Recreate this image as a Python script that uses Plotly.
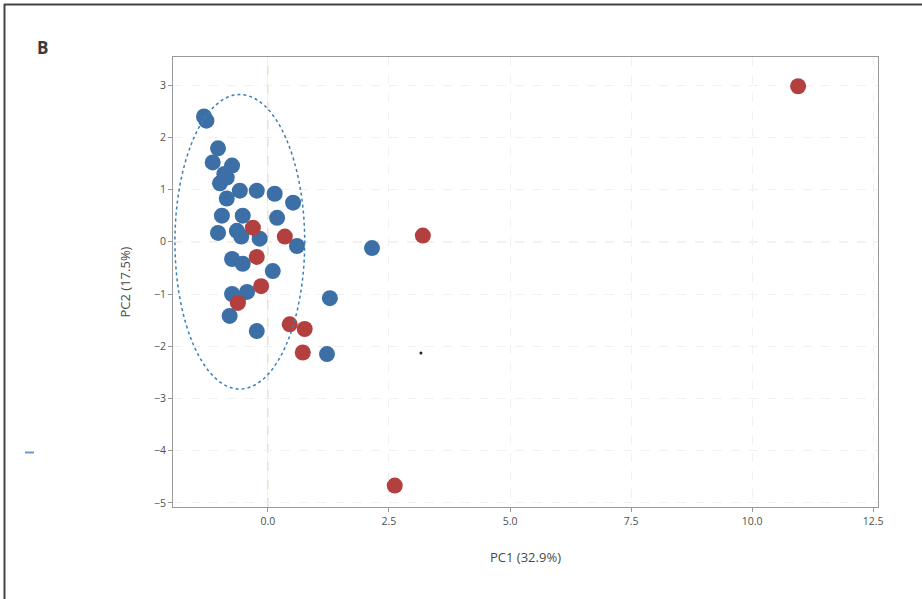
import plotly.graph_objects as go

# Group 1 (blue)
blue_x = [-1.32, -1.27, -1.03, -1.14, -0.74, -0.85, -0.99, -0.58, -0.23, 0.14, 0.52,
          -0.85, -0.95, -0.52, 0.19, -1.03, -0.64, -0.17, 0.60, -0.74, -0.52, 0.10,
          -0.74, -0.43, -0.62, -0.79, -0.23, 1.28, 1.22, 2.15, -0.90, -0.55]
blue_y = [2.40, 2.32, 1.79, 1.52, 1.46, 1.23, 1.12, 0.98, 0.98, 0.92, 0.75,
          0.83, 0.50, 0.50, 0.46, 0.17, 0.21, 0.06, -0.08, -0.33, -0.42, -0.56,
          -1.00, -0.96, -1.13, -1.42, -1.71, -1.08, -2.15, -0.12, 1.30, 0.10]

# Group 2 (red)
red_x = [-0.31, 0.35, -0.23, -0.14, -0.62, 0.45, 0.76, 0.72, 3.20, 2.62, 10.95]
red_y = [0.27, 0.10, -0.29, -0.85, -1.17, -1.58, -1.67, -2.12, 0.12, -4.67, 2.98]

# stray dot visible in the figure
dot_x = [3.16]
dot_y = [-2.13]

# confidence ellipse (centre, half-widths) in data units
ell_cx, ell_cy = -0.58, 0.0
ell_rx, ell_ry = 1.34, 2.82

x_ticks = [0.0, 2.5, 5.0, 7.5, 10.0, 12.5]
y_ticks = [3, 2, 1, 0, -1, -2, -3, -4, -5]

BLUE = "#3c6fa6"
RED = "#b3403f"

W, H = 922, 599
L, R, T, B = 173, 44, 57, 92
PW, PH = W - L - R, H - T - B


def px(xp):
    return (xp - L) / PW


def py(yp):
    return (H - B - yp) / PH


fig = go.Figure()
fig.add_trace(go.Scatter(x=blue_x, y=blue_y, mode="markers",
                         marker=dict(size=16, color=BLUE, line=dict(width=0)),
                         showlegend=False))
fig.add_trace(go.Scatter(x=red_x, y=red_y, mode="markers",
                         marker=dict(size=16, color=RED, line=dict(width=0)),
                         showlegend=False))
fig.add_trace(go.Scatter(x=dot_x, y=dot_y, mode="markers",
                         marker=dict(size=3, color="#222222"), showlegend=False))

fig.add_shape(type="circle", xref="x", yref="y",
              x0=ell_cx - ell_rx, x1=ell_cx + ell_rx,
              y0=ell_cy - ell_ry, y1=ell_cy + ell_ry,
              line=dict(color="#3a80b8", width=1.5, dash="dot"), layer="above")

# zero lines
fig.add_shape(type="line", xref="x", yref="paper", x0=0, x1=0, y0=0, y1=1,
              line=dict(color="#e3cfb3", width=1, dash="dash"), layer="below")
fig.add_shape(type="line", xref="paper", yref="y", x0=0, x1=1, y0=0, y1=0,
              line=dict(color="#e3cfb3", width=1, dash="dash"), layer="below")

# outer frame of the panel (top and left edges only visible)
fig.add_shape(type="line", xref="paper", yref="paper",
              x0=px(4), x1=px(922), y0=py(4.5), y1=py(4.5),
              line=dict(color="#444444", width=2))
fig.add_shape(type="line", xref="paper", yref="paper",
              x0=px(4.5), x1=px(4.5), y0=py(4), y1=py(599),
              line=dict(color="#444444", width=2))
# small blue tick mark at the left margin
fig.add_shape(type="line", xref="paper", yref="paper",
              x0=px(25), x1=px(34), y0=py(452.5), y1=py(452.5),
              line=dict(color="#6a9ac8", width=2))

fig.add_annotation(text="<b>B</b>", xref="paper", yref="paper",
                   x=px(42), y=py(47), xanchor="center", yanchor="middle",
                   showarrow=False, font=dict(size=17, color="#3a3a3a",
                                              family="Open Sans"))

axis_font = dict(family="Open Sans", size=10.5, color="#505050")
fig.update_layout(
    width=W, height=H,
    margin=dict(l=L, r=R, t=T, b=B),
    paper_bgcolor="white", plot_bgcolor="white",
    font=dict(family="Open Sans", color="#555555"),
    xaxis=dict(range=[-1.96, 12.6], tickvals=x_ticks, tickformat=".1f",
               showgrid=True, gridcolor="#f1f1f1", griddash="dash",
               zeroline=False, showline=True, linecolor="#999999", mirror=True,
               ticks="outside", ticklen=4, tickcolor="#999999",
               tickfont=axis_font,
               title=dict(text="PC1 (32.9%)", font=dict(size=13, color="#4a4a4a"),
                          standoff=26)),
    yaxis=dict(range=[-5.08, 3.54], tickvals=y_ticks,
               showgrid=True, gridcolor="#f1f1f1", griddash="dash",
               zeroline=False, showline=True, linecolor="#999999", mirror=True,
               ticks="outside", ticklen=4, tickcolor="#999999",
               tickfont=axis_font,
               title=dict(text="PC2 (17.5%)", font=dict(size=13, color="#4a4a4a"),
                          standoff=20)),
)

fig.write_html("out.html", config={"displayModeBar": False},
               post_script="document.body.style.margin='0px';")
